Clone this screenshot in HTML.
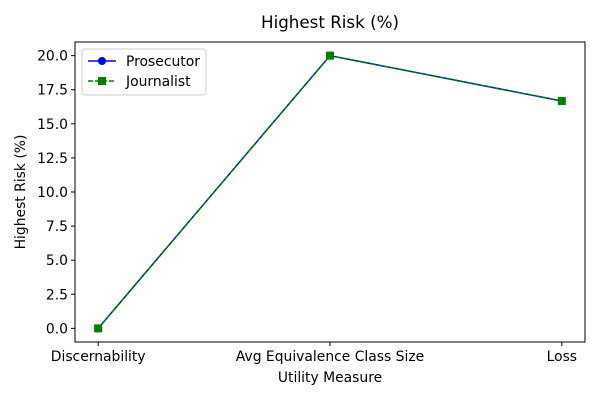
<!DOCTYPE html>
<html><head><meta charset="utf-8"><style>
body{margin:0;background:#fff;font-family:"Liberation Sans","DejaVu Sans",sans-serif;}
svg text{font-family:"DejaVu Sans","Liberation Sans",sans-serif;}
</style></head><body>
<svg id="chart" width="600" height="400" viewBox="0 0 600 400">
<rect width="600" height="400" fill="#fff"/>
<text x="330" y="28" text-anchor="middle" font-size="16.7">Highest Risk (%)</text>
<g id="axes"></g>
<text x="330" y="382" text-anchor="middle" font-size="13.9">Utility Measure</text>
<text transform="translate(25,192) rotate(-90)" text-anchor="middle" font-size="13.9">Highest Risk (%)</text>
<g>
<rect x="82" y="49" width="124" height="46" rx="3" fill="#fff" stroke="#ccc"/>
<g>
<line x1="88" y1="61" x2="116" y2="61" stroke="blue" stroke-width="1.5"/>
<circle cx="102" cy="61" r="4" fill="blue"/>
<text x="126" y="66" font-size="13.9">Prosecutor</text></g>
<g>
<line x1="88" y1="81" x2="116" y2="81" stroke="green" stroke-width="1.5" stroke-dasharray="5,2"/>
<rect x="98" y="77" width="8" height="8" fill="green"/>
<text x="126" y="86" font-size="13.9">Journalist</text></g>
</g>
</svg>
<script>
const categories=["Discernability","Avg Equivalence Class Size","Loss"];
const prosecutor=[0,20,16.67];
const journalist=[0,20,16.67];
const yTicks=[0,2.5,5,7.5,10,12.5,15,17.5,20];
const L=75,R=585,T=42,B=342,ymin=-1,ymax=21;
const xs=i=>L+(i+0.1)/2.2*(R-L);
const ys=v=>B-(v-ymin)/(ymax-ymin)*(B-T);
const NS="http://www.w3.org/2000/svg";
const g=document.getElementById('axes');
function mk(t,a,p){const e=document.createElementNS(NS,t);for(const k in a)e.setAttribute(k,a[k]);(p||g).appendChild(e);return e;}
yTicks.forEach(v=>{
 const tk=mk('line',{x1:L-4,x2:L,y1:ys(v),y2:ys(v),stroke:'#000'});
 
 
 const t=mk('text',{x:L-7,y:ys(v)+5,'text-anchor':'end','font-size':13.9});
 t.textContent=v.toFixed(1);
 
 
});
categories.forEach((c,i)=>{
 const tk=mk('line',{x1:xs(i),x2:xs(i),y1:B,y2:B+4,stroke:'#000'});
 
 
 const t=mk('text',{x:xs(i),y:B+19,'text-anchor':'middle','font-size':13.9});
 t.textContent=c;
 
 
});
const pl=mk('polyline',{points:prosecutor.map((v,i)=>xs(i)+','+ys(v)).join(' '),fill:'none',stroke:'blue','stroke-width':1.5});


prosecutor.forEach((v,i)=>{const c=mk('circle',{cx:xs(i),cy:ys(v),r:4,fill:'blue'});
 
 });
const jl=mk('polyline',{points:journalist.map((v,i)=>xs(i)+','+ys(v)).join(' '),fill:'none',stroke:'green','stroke-width':1.5,'stroke-dasharray':'5,2'});


journalist.forEach((v,i)=>{const r=mk('rect',{x:xs(i)-4,y:ys(v)-4,width:8,height:8,fill:'green'});
 
 });
const fr=mk('rect',{x:L,y:T,width:R-L,height:B-T,fill:'none',stroke:'#000','stroke-width':1});


</script>
</body></html>
